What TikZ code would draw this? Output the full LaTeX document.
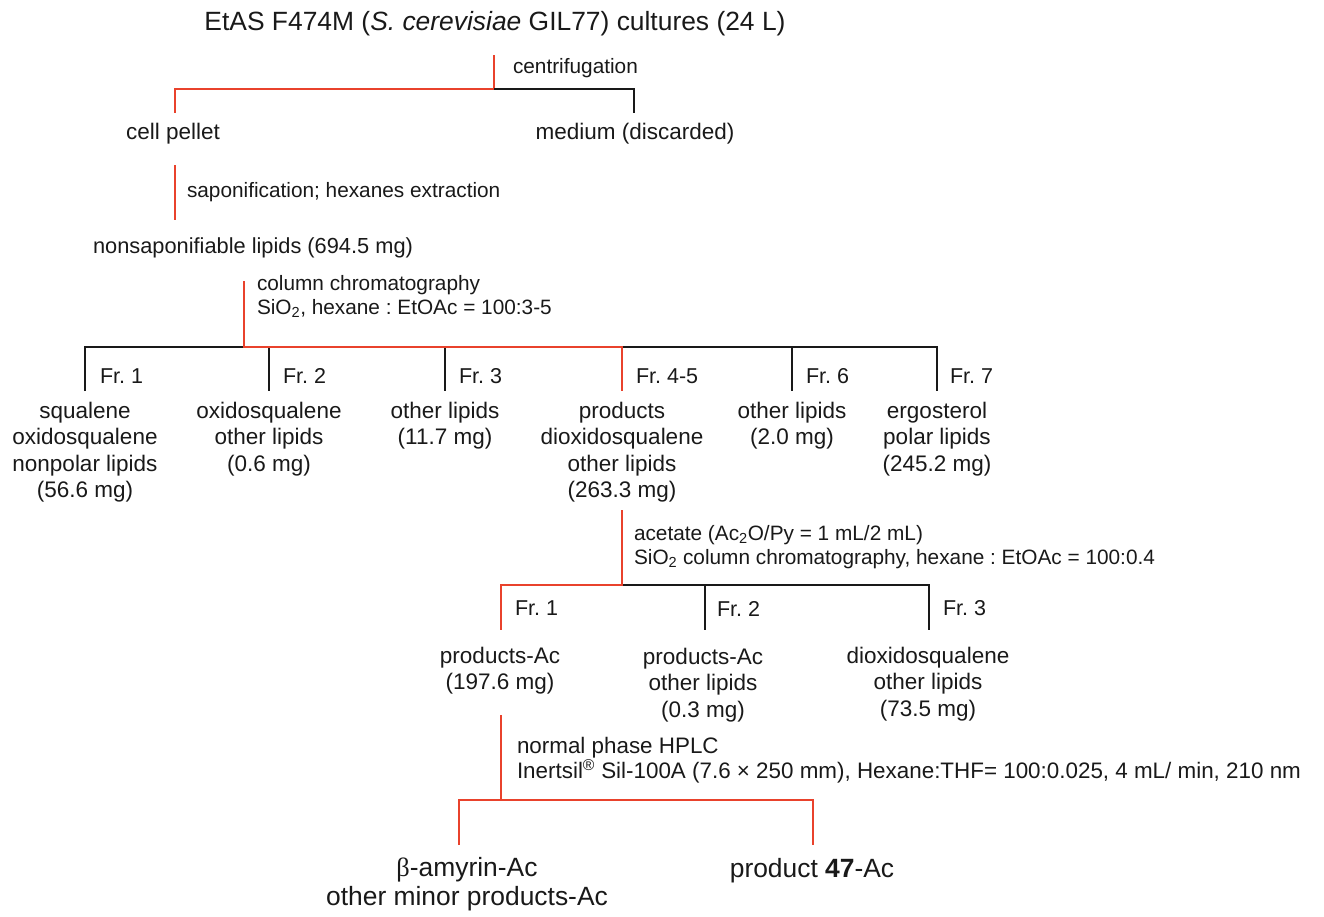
\documentclass[tikz,border=0pt]{standalone}
\usepackage{fontspec}
\setmainfont{Liberation Sans}
\newfontfamily\greekserif{Liberation Serif}
\definecolor{hlred}{RGB}{233,66,44}
\definecolor{ink}{RGB}{25,25,25}
\frenchspacing
\begin{document}
\begin{tikzpicture}[x=1pt,y=-1pt,line width=1.8pt,
  every node/.style={inner sep=0pt,outer sep=0pt,text=ink},
  bigtxt/.style={font=\fontsize{26.4}{29}\selectfont,align=center},
  midtxt/.style={font=\fontsize{22.5}{26.5}\selectfont,align=center,anchor=north},
  steptxt/.style={font=\fontsize{20.8}{24.5}\selectfont,align=left,anchor=north west},
  hplctxt/.style={font=\fontsize{22.4}{25}\selectfont,align=left,anchor=north west},
  frtxt/.style={font=\fontsize{21.5}{24}\selectfont,anchor=base west},
  redline/.style={draw=hlred},
  blkline/.style={draw=ink},
]
\useasboundingbox (0,0) rectangle (1324,916);

% ---------- culture and centrifugation ----------
\node[bigtxt,anchor=base] (culture) at (495,30)
  {EtAS F474M (\textit{S. cerevisiae} GIL77) cultures (24 L)};
\node[steptxt,anchor=base west] (centri) at (513,73) {centrifugation};
\coordinate (cTop) at (494,55);
\coordinate (cMid) at (494,89);
\coordinate (cL) at (175,89);
\coordinate (cLb) at (175,113);
\coordinate (cR) at (634,89);
\coordinate (cRb) at (634,113);
\draw[redline] (cTop) -- (cMid) -- (cL) -- (cLb);
\draw[blkline] (cMid) -- (cR) -- (cRb);
\node[midtxt,anchor=base] (pellet) at (173,139) {cell pellet};
\node[midtxt,anchor=base] (medium) at (635,139) {medium (discarded)};

% ---------- saponification ----------
\coordinate (sTop) at (175,165);
\coordinate (sBot) at (175,220);
\draw[redline] (sTop) -- (sBot);
\node[steptxt,anchor=base west] (sapon) at (187,197) {saponification; hexanes extraction};
\node[midtxt,anchor=base,font=\fontsize{21.8}{26}\selectfont] (nonsap) at (253,253)
  {nonsaponifiable lipids (694.5 mg)};

% ---------- first column ----------
\node[steptxt] (col1) at (257,275)
  {column chromatography\\SiO\textsubscript{2}, hexane : EtOAc = 100:3-5};
\coordinate (kTop) at (244,281);
\coordinate (kMid) at (244,347);
\coordinate (f1) at (85,347);   \coordinate (f1b) at (85,391);
\coordinate (f2) at (269,347);  \coordinate (f2b) at (269,391);
\coordinate (f3) at (445,347);  \coordinate (f3b) at (445,391);
\coordinate (f4) at (622,347);  \coordinate (f4b) at (622,391);
\coordinate (f6) at (792,347);  \coordinate (f6b) at (792,391);
\coordinate (f7) at (937,347);  \coordinate (f7b) at (937,391);
\draw[blkline] (f1b) -- (f1) -- (kMid);
\draw[blkline] (f4) -- (f7) -- (f7b);
\draw[blkline] (f2) -- (f2b);
\draw[blkline] (f3) -- (f3b);
\draw[blkline] (f6) -- (f6b);
\draw[redline] (kTop) -- (kMid) -- (f4) -- (f4b);

\node[frtxt] (fr1) at (100,383) {Fr. 1};
\node[frtxt] (fr2) at (283,383) {Fr. 2};
\node[frtxt] (fr3) at (459,383) {Fr. 3};
\node[frtxt] (fr45) at (636,383) {Fr. 4-5};
\node[frtxt] (fr6) at (806,383) {Fr. 6};
\node[frtxt] (fr7) at (950,383) {Fr. 7};

\node[midtxt] (p1) at (85,402) {squalene\\oxidosqualene\\nonpolar lipids\\(56.6 mg)};
\node[midtxt] (p2) at (269,402) {oxidosqualene\\other lipids\\(0.6 mg)};
\node[midtxt] (p3) at (445,402) {other lipids\\(11.7 mg)};
\node[midtxt] (p45) at (622,402) {products\\dioxidosqualene\\other lipids\\(263.3 mg)};
\node[midtxt] (p6) at (792,402) {other lipids\\(2.0 mg)};
\node[midtxt] (p7) at (937,402) {ergosterol\\polar lipids\\(245.2 mg)};

% ---------- acetylation and second column ----------
\node[steptxt] (col2) at (634,525)
  {acetate (Ac\textsubscript{2}O/Py = 1 mL/2 mL)\\SiO\textsubscript{2} column chromatography, hexane : EtOAc = 100:0.4};
\coordinate (aTop) at (622,510);
\coordinate (aMid) at (622,585);
\coordinate (g1) at (501,585);  \coordinate (g1b) at (501,630);
\coordinate (g2) at (705,585);  \coordinate (g2b) at (705,630);
\coordinate (g3) at (929,585);  \coordinate (g3b) at (929,630);
\draw[blkline] (aMid) -- (g3) -- (g3b);
\draw[blkline] (g2) -- (g2b);
\draw[redline] (aTop) -- (aMid) -- (g1) -- (g1b);

\node[frtxt] (gr1) at (515,615) {Fr. 1};
\node[frtxt] (gr2) at (717,616) {Fr. 2};
\node[frtxt] (gr3) at (943,615) {Fr. 3};

\node[midtxt] (q1) at (500,647) {products-Ac\\(197.6 mg)};
\node[midtxt] (q2) at (703,648) {products-Ac\\other lipids\\(0.3 mg)};
\node[midtxt] (q3) at (928,647) {dioxidosqualene\\other lipids\\(73.5 mg)};

% ---------- HPLC ----------
\node[hplctxt] (hplc) at (517,737)
  {normal phase HPLC\\Inertsil\textsuperscript{®} Sil-100A (7.6 × 250 mm), Hexane:THF= 100:0.025, 4 mL/ min, 210 nm};
\coordinate (hTop) at (501,715);
\coordinate (hMid) at (501,800);
\coordinate (h1) at (459,800);  \coordinate (h1b) at (459,845);
\coordinate (h2) at (813,800);  \coordinate (h2b) at (813,845);
\draw[redline] (hTop) -- (hMid);
\draw[redline] (h1b) -- (h1) -- (h2) -- (h2b);

\node[bigtxt,anchor=north] (amyrin) at (467,857)
  {{\greekserif β}-amyrin-Ac\\other minor products-Ac};
\node[bigtxt,anchor=base] (prod47) at (812,877) {product \textbf{47}-Ac};
\end{tikzpicture}
\end{document}
